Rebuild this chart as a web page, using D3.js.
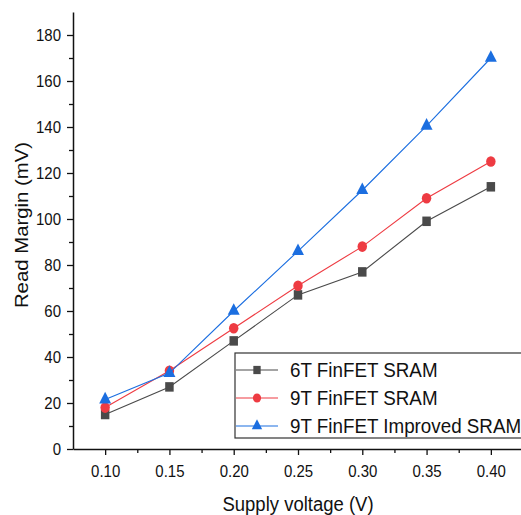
<!DOCTYPE html>
<html>
<head>
<meta charset="utf-8">
<script src="https://cdn.jsdelivr.net/npm/d3@7"></script>
<style>
  body { margin: 0; background: #fff; }
  svg { font-family: "Liberation Sans", Arial, sans-serif; }
</style>
</head>
<body>
<div id="chart"></div>
<script>
// Data
const voltages = [0.10, 0.15, 0.20, 0.25, 0.30, 0.35, 0.40];
const sram6T = [15, 27, 47, 67, 77, 99, 114];
const sram9T = [18, 34, 52.5, 71, 88, 109, 125];
const sram9TImproved = [21.5, 33, 60, 86, 112.5, 140.5, 170];
const seriesNames = ['6T FinFET SRAM', '9T FinFET SRAM', '9T FinFET Improved SRAM'];
const xTicks = [0.10, 0.15, 0.20, 0.25, 0.30, 0.35, 0.40];
const yTicks = [0, 20, 40, 60, 80, 100, 120, 140, 160, 180];

const width = 521, height = 515;
const margin = { top: 12, right: -2, bottom: 66, left: 73 };

const svg = d3.select('#chart').append('svg')
  .attr('width', width)
  .attr('height', height);

const x = d3.scaleLinear()
  .domain([0.075, 0.425])
  .range([margin.left, width - margin.right]);

const y = d3.scaleLinear()
  .domain([0, 190])
  .range([height - margin.bottom, margin.top]);

const x0 = height - margin.bottom;

// minor ticks
svg.append('g')
  .attr('transform', 'translate(0,' + x0 + ')')
  .call(d3.axisBottom(x).tickValues(d3.range(0.125, 0.42, 0.05)).tickSize(4).tickFormat(''))
  .call(g => g.select('.domain').remove());
svg.append('g')
  .attr('transform', 'translate(' + margin.left + ',0)')
  .call(d3.axisLeft(y).tickValues(d3.range(10, 190, 20)).tickSize(4).tickFormat(''))
  .call(g => g.select('.domain').remove());

// x axis
svg.append('g')
  .attr('transform', 'translate(0,' + x0 + ')')
  .call(d3.axisBottom(x).tickValues(xTicks).tickSize(6).tickSizeOuter(0).tickPadding(9).tickFormat(d3.format('.2f')))
  .call(g => g.selectAll('text').attr('font-size', 15).attr('fill', '#111').attr('transform', 'scale(1,1.1)'));

// y axis
svg.append('g')
  .attr('transform', 'translate(' + margin.left + ',0)')
  .call(d3.axisLeft(y).tickValues(yTicks).tickSize(6).tickSizeOuter(0).tickPadding(6).tickFormat(d3.format('d')))
  .call(g => g.selectAll('text').attr('font-size', 15).attr('fill', '#111').attr('transform', 'scale(1,1.1)'));

svg.selectAll('.domain').attr('stroke-width', 1.5).attr('stroke', '#111');
svg.selectAll('.tick line').attr('stroke', '#111').attr('stroke-width', 1.3);

// axis labels
svg.append('text')
  .attr('transform', 'translate(298,511) scale(1,1.08)')
  .attr('text-anchor', 'middle')
  .attr('font-size', 18.5)
  .attr('fill', '#111')
  .text('Supply voltage (V)');

svg.append('text')
  .attr('transform', 'translate(28,225) rotate(-90) scale(1.1,1)')
  .attr('text-anchor', 'middle')
  .attr('font-size', 18.5)
  .attr('fill', '#111')
  .text('Read Margin (mV)');

const series = [
  { name: seriesNames[0], values: sram6T, color: '#4a4a4a', shape: d3.symbolSquare, size: 72 },
  { name: seriesNames[1], values: sram9T, color: '#ee3b42', shape: d3.symbolCircle, size: 70 },
  { name: seriesNames[2], values: sram9TImproved, color: '#1b6ee0', shape: d3.symbolTriangle, size: 62 }
];

const line = d3.line()
  .x((d, i) => x(voltages[i]))
  .y(d => y(d));

series.forEach(s => {
  svg.append('path')
    .datum(s.values)
    .attr('d', line)
    .attr('fill', 'none')
    .attr('stroke', s.color)
    .attr('stroke-width', 1.1);
  svg.selectAll(null)
    .data(s.values)
    .enter()
    .append('path')
    .attr('d', d3.symbol().type(s.shape).size(s.size))
    .attr('transform', (d, i) => 'translate(' + x(voltages[i]) + ',' + y(d) + ') scale(1,1.12)')
    .attr('fill', s.color);
});

// legend
const legend = svg.append('g').attr('transform', 'translate(235,353)');
legend.append('rect')
  .attr('width', 300)
  .attr('height', 85)
  .attr('fill', '#fff')
  .attr('stroke', '#333')
  .attr('stroke-width', 1.2);

series.forEach((s, i) => {
  const ly = 17 + i * 28;
  legend.append('line')
    .attr('x1', 1).attr('x2', 43)
    .attr('y1', ly).attr('y2', ly)
    .attr('stroke', s.color)
    .attr('stroke-width', 1.1);
  legend.append('path')
    .attr('d', d3.symbol().type(s.shape).size(s.size * 0.75))
    .attr('transform', 'translate(22,' + ly + ') scale(1,1.12)')
    .attr('fill', s.color);
  legend.append('text')
    .attr('transform', 'translate(55,' + (ly + 7) + ') scale(1,1.06)')
    .attr('font-size', 18.8)
    .attr('fill', '#111')
    .text(s.name);
});
</script>
</body>
</html>
